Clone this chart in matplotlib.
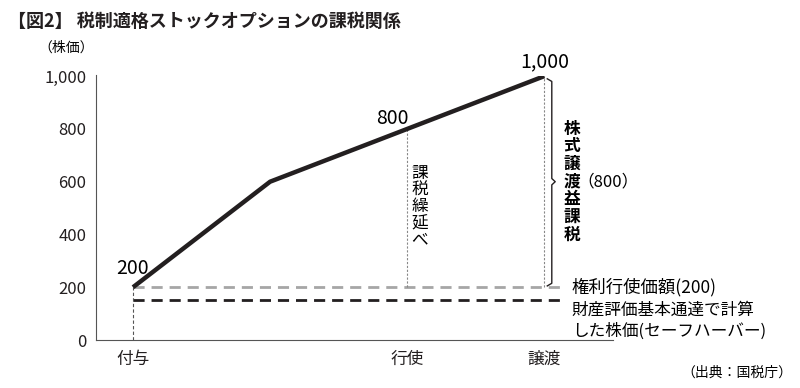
import matplotlib
matplotlib.use('Agg')
import matplotlib.pyplot as plt

plt.rcParams['font.family'] = ['Noto Sans CJK JP', 'DejaVu Sans']

# データ
stages = ['付与', '', '行使', '譲渡']
stage_x = [0, 1, 2, 3]
price = [200, 600, 800, 1000]
point_labels = ['200', '', '800', '1,000']
exercise_price = 200
safe_harbor = 150
yticks = [0, 200, 400, 600, 800, 1000]
ytick_labels = ['0', '200', '400', '600', '800', '1,000']
gain = price[-1] - exercise_price

fig = plt.figure(figsize=(8, 3.88), dpi=100)
ax = fig.add_axes([0.12, 0.1237, 0.646, 0.680])

# 株価の推移
ax.plot(stage_x, price, color='#231f20', lw=3.2, solid_capstyle='butt', zorder=5)

# 権利行使価額 / セーフハーバー
ax.plot([stage_x[0], 3.16], [exercise_price, exercise_price], color='#a6a6a6',
        lw=2.0, dashes=(4, 2.5))
ax.plot([stage_x[0], 3.16], [safe_harbor, safe_harbor], color='#231f20',
        lw=2.0, dashes=(4, 2.5))

# 補助線
ax.plot([stage_x[0], stage_x[0]], [0, exercise_price], color='#555555', lw=0.8,
        dashes=(3, 2))
for i in (2, 3):
    ax.plot([stage_x[i], stage_x[i]], [exercise_price, price[i]], color='#888888',
            lw=0.8, dashes=(2, 1.5))

# 点ラベル
ax.annotate(point_labels[0], (stage_x[0], price[0]), xytext=(0, 6),
            textcoords='offset points', ha='center', va='bottom', fontsize=14)
ax.annotate(point_labels[2], (stage_x[2], price[2]), xytext=(-11, 0),
            textcoords='offset points', ha='center', va='bottom', fontsize=14)
ax.annotate(point_labels[3], (stage_x[3], price[3]), xytext=(0, 3),
            textcoords='offset points', ha='center', va='bottom', fontsize=14)

# 中括弧
bx0, bx1, tip = 3.022, 3.055, 3.08
mid = (price[-1] + exercise_price) / 2
ax.plot([bx0, bx1, bx1, tip, bx1, bx1, bx0],
        [price[-1] - 10, price[-1] - 20, mid + 12, mid, mid - 12,
         exercise_price + 15, exercise_price + 5],
        color='#231f20', lw=1.0, clip_on=False)

ax.text(3.2, mid, '\n'.join('株式譲渡益課税'), ha='center', va='center',
        fontsize=12, fontweight='bold', linespacing=0.98)
ax.text(3.245, mid, f'（{gain}）', ha='left', va='center', fontsize=12)
ax.text(2.09, 505, '\n'.join('課税繰延べ'), ha='center', va='center',
        fontsize=12, linespacing=0.98)

ax.text(3.2, exercise_price, '権利行使価額(200)', ha='left', va='center', fontsize=12.5)
ax.text(3.2, safe_harbor - 5, '財産評価基本通達で計算\nした株価(セーフハーバー)',
        ha='left', va='top', fontsize=12, linespacing=1.3)

ax.set_xlim(-0.27, 3.5)
ax.set_ylim(0, 1000)
ax.set_yticks(yticks)
ax.set_yticklabels(ytick_labels)
ax.set_xticks([x for x, s in zip(stage_x, stages) if s])
ax.set_xticklabels([s for s in stages if s])
ax.tick_params(axis='both', length=0, labelsize=12, colors='#231f20')
ax.tick_params(axis='y', pad=7)
ax.tick_params(axis='x', pad=8)
for side in ('top', 'right'):
    ax.spines[side].set_visible(False)
for side in ('left', 'bottom'):
    ax.spines[side].set_color('#555555')
    ax.spines[side].set_linewidth(0.8)
ax.spines['left'].set_bounds(0, 1005)

fig.text(0.01, 0.945, '【図2】 税制適格ストックオプションの課税関係', fontsize=13,
         fontweight='bold', ha='left', va='center', color='#231f20')
fig.text(0.048, 0.876, '（株価）', fontsize=10, ha='left', va='center')
fig.text(0.99, 0.04, '（出典：国税庁）', fontsize=10, ha='right', va='center')

fig.savefig('out.png', dpi=100)
